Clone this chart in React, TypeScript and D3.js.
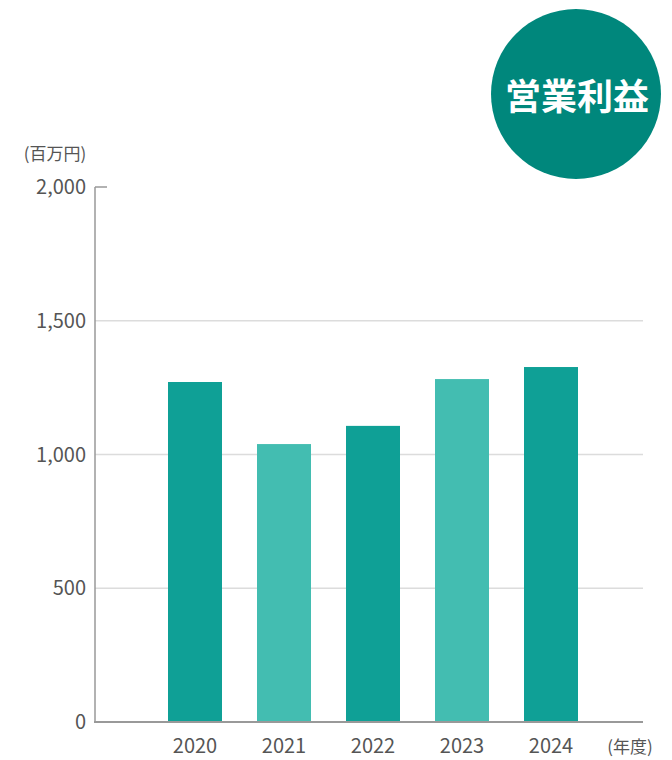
import { useEffect, useRef } from 'react'
import * as d3 from 'd3'

const years = ['2020', '2021', '2022', '2023', '2024']
const profit = [1271, 1039, 1107, 1282, 1327]
const barColors = ['#0fa096', '#43bdb1', '#0fa096', '#43bdb1', '#0fa096']
const yTicks = [0, 500, 1000, 1500, 2000]

const title = '営業利益'
const unitLabel = '(百万円)'
const yearLabel = '(年度)'

const font = "'Noto Sans CJK JP', 'Noto Sans', sans-serif"

export default function App() {
  const svgRef = useRef<SVGSVGElement>(null)

  useEffect(() => {
    if (!svgRef.current) return
    const width = 672
    const height = 760
    const svg = d3.select(svgRef.current)
    svg.selectAll('*').remove()
    svg.attr('width', width).attr('height', height)

    const axisLeft = 95
    const axisRight = 643

    const x = d3.scaleBand<string>()
      .domain(years)
      .range([150.5, 595.5])
      .paddingInner(35 / 89)
      .paddingOuter(35 / 89 / 2)

    const y = d3.scaleLinear().domain([0, 2000]).range([722, 187])

    // gridlines
    svg.append('g')
      .selectAll('line')
      .data(yTicks.filter(t => t > 0 && t < 2000))
      .enter()
      .append('line')
      .attr('x1', axisLeft)
      .attr('x2', axisRight)
      .attr('y1', d => y(d))
      .attr('y2', d => y(d))
      .attr('stroke', '#dcdcdc')
      .attr('stroke-width', 1.5)

    // tick labels
    svg.append('g')
      .selectAll('text')
      .data(yTicks)
      .enter()
      .append('text')
      .attr('x', 86)
      .attr('y', d => y(d))
      .attr('dy', '0.36em')
      .attr('text-anchor', 'end')
      .attr('font-family', font)
      .attr('font-size', 20)
      .attr('fill', '#555')
      .text(d => d3.format(',')(d))

    // bars
    svg.append('g')
      .selectAll('rect')
      .data(profit)
      .enter()
      .append('rect')
      .attr('x', (_, i) => x(years[i]) ?? 0)
      .attr('width', x.bandwidth())
      .attr('y', d => y(d))
      .attr('height', d => y(0) - y(d))
      .attr('fill', (_, i) => barColors[i])

    // y axis line + top tick
    svg.append('line')
      .attr('x1', axisLeft).attr('x2', axisLeft)
      .attr('y1', y(2000)).attr('y2', y(0))
      .attr('stroke', '#999').attr('stroke-width', 1.5)
    svg.append('line')
      .attr('x1', axisLeft).attr('x2', axisLeft + 12)
      .attr('y1', y(2000)).attr('y2', y(2000))
      .attr('stroke', '#999').attr('stroke-width', 1.5)

    // baseline
    svg.append('line')
      .attr('x1', axisLeft - 1).attr('x2', axisRight)
      .attr('y1', y(0)).attr('y2', y(0))
      .attr('stroke', '#999').attr('stroke-width', 2)

    // year labels
    svg.append('g')
      .selectAll('text')
      .data(years)
      .enter()
      .append('text')
      .attr('x', d => (x(d) ?? 0) + x.bandwidth() / 2)
      .attr('y', 753)
      .attr('text-anchor', 'middle')
      .attr('font-family', font)
      .attr('font-size', 20)
      .attr('fill', '#555')
      .text(d => d)

    svg.append('text')
      .attr('x', 630)
      .attr('y', 753)
      .attr('text-anchor', 'middle')
      .attr('font-family', font)
      .attr('font-size', 17)
      .attr('fill', '#555')
      .text(yearLabel)

    svg.append('text')
      .attr('x', 55)
      .attr('y', 160)
      .attr('text-anchor', 'middle')
      .attr('font-family', font)
      .attr('font-size', 17)
      .attr('fill', '#555')
      .text(unitLabel)

    // title badge
    svg.append('circle')
      .attr('cx', 576)
      .attr('cy', 94)
      .attr('r', 85)
      .attr('fill', '#00877c')
    svg.append('text')
      .attr('x', 577)
      .attr('y', 110)
      .attr('text-anchor', 'middle')
      .attr('font-family', font)
      .attr('font-weight', 'bold')
      .attr('font-size', 36)
      .attr('fill', '#fff')
      .text(title)
  }, [])

  return (
    <svg ref={svgRef} style={{ position: 'absolute', left: 0, top: 0 }} />
  )
}
